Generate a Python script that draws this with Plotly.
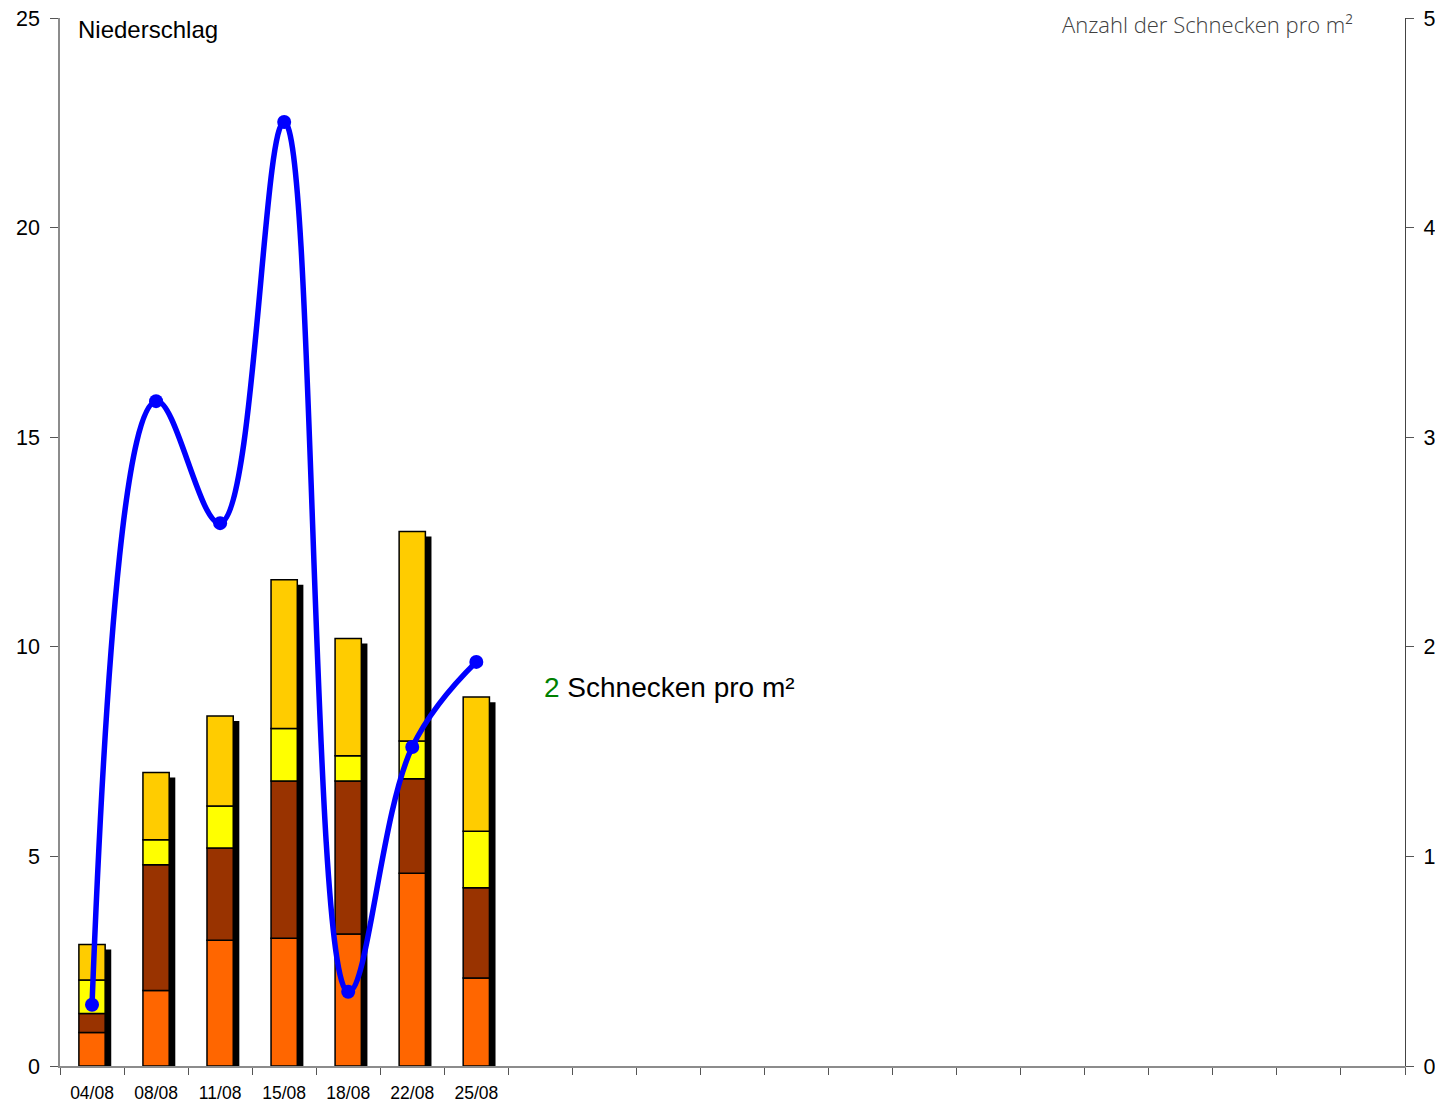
import plotly.graph_objects as go
import numpy as np

# ---- data ----
dates = ["04/08", "08/08", "11/08", "15/08", "18/08", "22/08", "25/08"]
# snails per m² (right axis), stacked segments
seg_orange = [0.16, 0.36, 0.60, 0.61, 0.63, 0.92, 0.42]
seg_brown = [0.09, 0.60, 0.44, 0.75, 0.73, 0.45, 0.43]
seg_yellow = [0.16, 0.12, 0.20, 0.25, 0.12, 0.18, 0.27]
seg_gold = [0.17, 0.32, 0.43, 0.71, 0.56, 1.00, 0.64]
# precipitation (left axis)
niederschlag = [1.46, 15.86, 12.95, 22.52, 1.77, 7.61, 9.64]

n_slots = 21
x = list(range(len(dates)))

colors = ["#FF6600", "#993300", "#FFFF00", "#FFCC00"]
segs = [seg_orange, seg_brown, seg_yellow, seg_gold]

bw = 0.41
fig = go.Figure()

totals = np.sum(np.array(segs), axis=0)
# shadow
fig.add_trace(go.Bar(x=x, y=totals - 0.024, base=0, width=bw, offset=-bw / 2 + 0.095,
                     marker=dict(color="black", line=dict(width=0)), yaxis="y",
                     hoverinfo="skip", showlegend=False))
base = np.zeros(len(dates))
for s, c in zip(segs, colors):
    fig.add_trace(go.Bar(x=x, y=s, base=base.copy(), width=bw, offset=-bw / 2,
                         marker=dict(color=c, line=dict(color="black", width=1.5)),
                         yaxis="y", showlegend=False))
    base = base + np.array(s)

fig.add_trace(go.Scatter(x=x, y=niederschlag, mode="lines+markers", yaxis="y2",
                         line=dict(color="#0000FF", width=5.5, shape="spline", smoothing=1.1),
                         marker=dict(color="#0000FF", size=14), showlegend=False))

fig.update_layout(
    width=1435, height=1097,
    margin=dict(l=52, r=38, t=10, b=39, autoexpand=False),
    paper_bgcolor="white", plot_bgcolor="white",
    barmode="overlay",
    font=dict(family="Arial, Liberation Sans, sans-serif", color="black"),
    xaxis=dict(range=[-0.5, n_slots - 0.5], tickvals=x, ticktext=dates,
               ticks="", showgrid=False, zeroline=False, showline=True,
               linecolor="#8c8c8c", linewidth=1.5, tickfont=dict(size=17.5),
               ticklabelstandoff=10, automargin=False,
               minor=dict(ticks="outside", tick0=-0.5, dtick=1, ticklen=7,
                          tickcolor="#555", tickwidth=1, showgrid=False)),
    yaxis=dict(side="right", range=[0, 5], dtick=1, ticks="outside", ticklen=8,
               tickcolor="#555", showgrid=False, zeroline=False, showline=True,
               linecolor="#444", linewidth=1.2, tickfont=dict(size=21.5),
               ticklabelstandoff=5, ticklabeloverflow="allow", automargin=False),
    yaxis2=dict(side="left", overlaying="y", range=[0, 25], dtick=5, ticks="outside",
                ticklen=8, tickcolor="#555", showgrid=False, zeroline=False,
                showline=True, linecolor="#8c8c8c", linewidth=1.5,
                tickfont=dict(size=21.5), ticklabelstandoff=6,
                ticklabeloverflow="allow", automargin=False),
    annotations=[
        dict(text="Niederschlag", xref="paper", yref="paper", x=0.012, y=0.989,
             xanchor="left", yanchor="middle", showarrow=False,
             font=dict(size=24, color="black")),
        dict(text="Anzahl der Schnecken pro m²", xref="paper", yref="paper",
             x=0.963, y=0.9945, xanchor="right", yanchor="middle", showarrow=False,
             font=dict(size=22, color="#404040", family="Open Sans", weight=300)),
        dict(text="<span style='color:#008000'>2</span> Schnecken pro m²",
             xref="paper", yref="paper", x=0.3585, y=0.3608, xanchor="left",
             yanchor="middle", showarrow=False, font=dict(size=28, color="black")),
    ],
)

fig.write_html("out.html")
